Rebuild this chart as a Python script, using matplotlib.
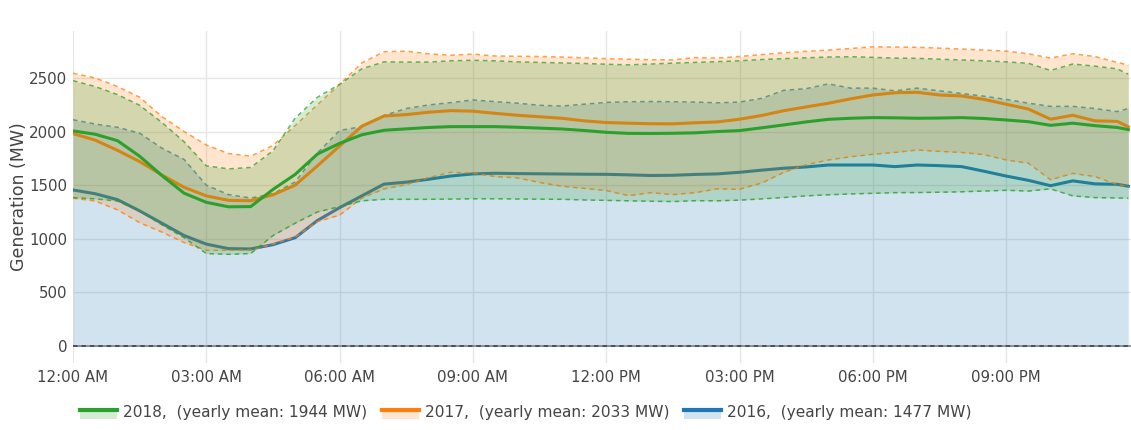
import numpy as np
import matplotlib
matplotlib.use('Agg')
import matplotlib.pyplot as plt
from matplotlib.legend_handler import HandlerBase
from matplotlib.patches import Rectangle
from matplotlib.lines import Line2D

# half-hour profile, last point at 23:45
hours = list(np.arange(0, 23.75, 0.5)) + [23.75]

# 2018
g_mean = [2006, 1975, 1915, 1770, 1590, 1425, 1340, 1298, 1300, 1460, 1600, 1790,
          1890, 1970, 2012, 2025, 2038, 2046, 2046, 2046, 2040, 2032, 2024, 2010,
          1993, 1983, 1982, 1984, 1988, 2000, 2009, 2035, 2062, 2090, 2114, 2124,
          2130, 2128, 2124, 2126, 2130, 2122, 2108, 2092, 2058, 2078, 2055, 2038, 2018]
g_hi = [2475, 2420, 2345, 2245, 2085, 1905, 1680, 1652, 1665, 1820, 2125, 2320,
        2440, 2585, 2650, 2648, 2648, 2660, 2665, 2660, 2650, 2645, 2640, 2635,
        2628, 2622, 2630, 2638, 2645, 2652, 2660, 2672, 2680, 2688, 2695, 2698,
        2692, 2685, 2683, 2675, 2668, 2660, 2650, 2637, 2570, 2630, 2610, 2585, 2535]
g_lo = [1384, 1372, 1352, 1260, 1130, 1010, 862, 855, 862, 1030, 1145, 1250,
        1300, 1354, 1368, 1368, 1368, 1370, 1373, 1373, 1371, 1369, 1368, 1362,
        1358, 1354, 1350, 1347, 1355, 1354, 1360, 1372, 1385, 1400, 1410, 1418,
        1424, 1430, 1431, 1434, 1438, 1445, 1452, 1445, 1465, 1400, 1384, 1380, 1378]

# 2017
o_mean = [1981, 1920, 1825, 1720, 1595, 1480, 1400, 1358, 1355, 1410, 1500, 1680,
          1865, 2050, 2145, 2158, 2180, 2195, 2190, 2170, 2152, 2138, 2124, 2100,
          2084, 2078, 2073, 2072, 2082, 2090, 2115, 2150, 2195, 2230, 2264, 2305,
          2341, 2362, 2366, 2341, 2332, 2300, 2255, 2210, 2115, 2152, 2100, 2095, 2045]
o_hi = [2544, 2500, 2420, 2320, 2140, 2000, 1875, 1795, 1770, 1870, 2055, 2250,
        2440, 2640, 2745, 2750, 2725, 2712, 2722, 2705, 2702, 2700, 2695, 2688,
        2680, 2675, 2670, 2668, 2690, 2685, 2700, 2718, 2735, 2748, 2760, 2775,
        2790, 2788, 2786, 2778, 2770, 2760, 2750, 2726, 2685, 2726, 2700, 2645, 2621]
o_lo = [1378, 1352, 1270, 1150, 1062, 965, 892, 892, 896, 950, 1015, 1160,
        1220, 1380, 1465, 1505, 1570, 1620, 1612, 1580, 1568, 1525, 1490, 1470,
        1450, 1402, 1430, 1412, 1430, 1465, 1462, 1520, 1620, 1690, 1735, 1765,
        1788, 1805, 1828, 1815, 1805, 1785, 1735, 1705, 1550, 1610, 1580, 1505, 1486]

# 2016 (lower bound sits at 0 all day)
b_mean = [1455, 1420, 1365, 1260, 1145, 1030, 950, 908, 905, 945, 1010, 1170,
          1290, 1400, 1510, 1528, 1555, 1585, 1605, 1611, 1608, 1606, 1604, 1602,
          1601, 1596, 1590, 1592, 1600, 1605, 1620, 1640, 1658, 1670, 1688, 1688,
          1688, 1673, 1688, 1682, 1673, 1630, 1585, 1545, 1495, 1540, 1512, 1508, 1490]
b_hi = [2110, 2070, 2040, 1985, 1845, 1740, 1500, 1412, 1380, 1420, 1530, 1800,
        2010, 2046, 2150, 2215, 2248, 2270, 2295, 2279, 2265, 2245, 2238, 2255,
        2272, 2278, 2280, 2278, 2275, 2268, 2275, 2310, 2385, 2400, 2445, 2405,
        2405, 2380, 2405, 2380, 2355, 2330, 2300, 2265, 2235, 2235, 2215, 2186, 2215]
b_lo = 0

years = ['2016', '2017', '2018']
yearly_mean = [1477, 2033, 1944]
colors = ['#1f77b4', '#ff7f0e', '#2ca02c']
means = [b_mean, o_mean, g_mean]
highs = [b_hi, o_hi, g_hi]
lows = [np.full(len(hours), b_lo), o_lo, g_lo]

xticks = [0, 3, 6, 9, 12, 15, 18, 21]
xtick_labels = ['12:00 AM', '03:00 AM', '06:00 AM', '09:00 AM',
                '12:00 PM', '03:00 PM', '06:00 PM', '09:00 PM']
yticks = [0, 500, 1000, 1500, 2000, 2500]


class BandHandler(HandlerBase):
    def create_artists(self, legend, orig, xd, yd, w, h, fs, trans):
        c = orig.get_color()
        r = Rectangle((xd, yd - 0.15 * h), w, h * 0.85, facecolor=c, alpha=0.2,
                      edgecolor='none', transform=trans)
        l = Line2D([xd, xd + w], [yd + 0.7 * h] * 2, color=c, lw=3, transform=trans)
        return [r, l]


plt.rcParams['font.family'] = ['DejaVu Sans']
fig = plt.figure(figsize=(11.31, 4.30), dpi=100)
ax = fig.add_axes([73 / 1131, 1 - 363 / 430, 1 - 73 / 1131, (363 - 31) / 430])

handles = []
for i, yr in enumerate(years):
    c = colors[i]
    z = 2 + i * 3
    ax.fill_between(hours, lows[i], highs[i], color=c, alpha=0.2, lw=0, zorder=z)
    lo_c = '#2b2b2b' if yr == '2016' else c
    ax.plot(hours, lows[i], color=lo_c, lw=1.1, ls=(0, (3, 2.5)), alpha=0.8, zorder=z + 1)
    ax.plot(hours, highs[i], color=c, lw=1.1, ls=(0, (3, 2.5)), alpha=0.75, zorder=z + 1)
    ln, = ax.plot(hours, means[i], color=c, lw=2.2, zorder=z + 2)
    handles.append(ln)

ax.axhline(0, color='#8a8a8a', lw=1.2, zorder=1.5)

ax.set_xlim(0, 23.81)
ax.set_ylim(-159, 2938)
ax.set_xticks(xticks)
ax.set_xticklabels(xtick_labels)
ax.set_yticks(yticks)
ax.grid(True, color='#e6e6e6', lw=1, zorder=0)
ax.set_axisbelow(True)
for s in ax.spines.values():
    s.set_visible(False)
ax.tick_params(length=0, labelsize=10.8, colors='#444444', pad=4)
ax.tick_params(axis='x', pad=5)
ax.set_ylabel('Generation (MW)', fontsize=12.5, color='#444444', labelpad=1)

labels = [f'{yr},  (yearly mean: {m} MW)' for yr, m in zip(years, yearly_mean)]
fig.legend(handles[::-1], labels[::-1], loc='center left',
           bbox_to_anchor=(66 / 1131, 1 - 413 / 430), ncol=3, frameon=False,
           fontsize=11.1, labelcolor='#444444', handlelength=2.4,
           handletextpad=0.4, columnspacing=0.95,
           handler_map={Line2D: BandHandler()})

fig.savefig('out.png', dpi=100)
